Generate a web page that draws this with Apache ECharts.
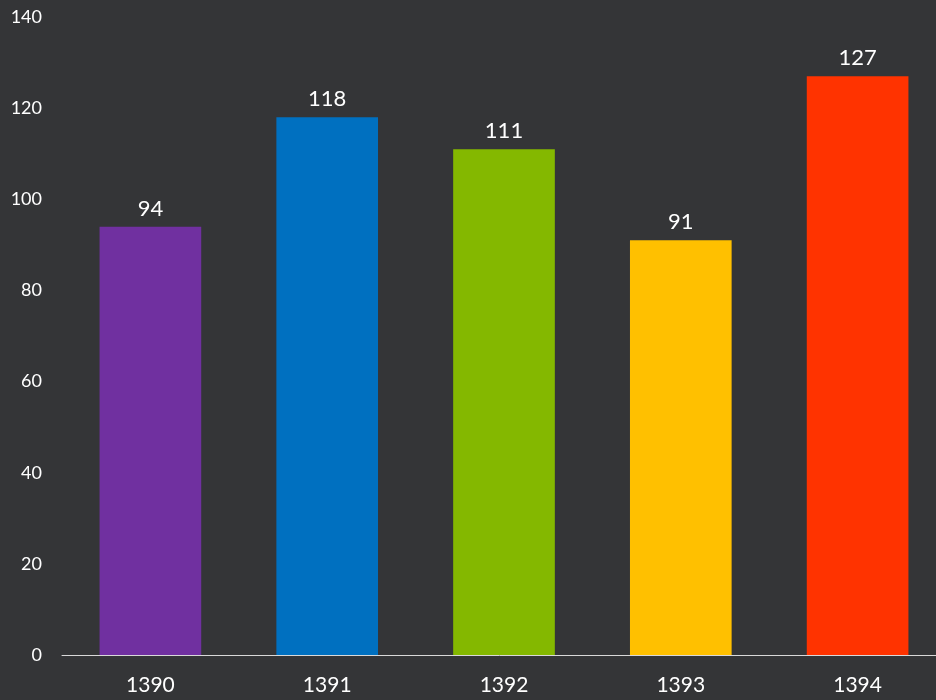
<!DOCTYPE html>
<html>
<head>
<meta charset="utf-8">
<script src="https://cdn.jsdelivr.net/npm/echarts@6/dist/echarts.min.js"></script>
<style>
  html, body { margin: 0; padding: 0; background: #343537; }
  #chart { width: 936px; height: 700px; }
</style>
</head>
<body>
<div id="chart"></div>
<script>
// Yearly totals, one coloured bar per year
const years = ['1390', '1391', '1392', '1393', '1394'];
const values = [94, 118, 111, 91, 127];
const barColors = ['#7030A0', '#0070C0', '#84B800', '#FFC000', '#FF3300'];
const yTicks = { min: 0, max: 140, step: 20 };

const chart = echarts.init(document.getElementById('chart'));
chart.setOption({
  backgroundColor: '#343537',
  animation: false,
  textStyle: { fontFamily: 'Lato, sans-serif' },
  // plot area runs a little past the right edge of the canvas
  grid: { left: 62, width: 884, top: 17, bottom: 45, containLabel: false, outerBoundsMode: 'none' },
  xAxis: {
    type: 'category',
    data: years,
    axisLine: { lineStyle: { color: '#d9d9d9', width: 1 } },
    axisTick: { show: false },
    axisLabel: { color: '#ffffff', fontSize: 21, margin: 20 }
  },
  yAxis: {
    type: 'value',
    min: yTicks.min,
    max: yTicks.max,
    interval: yTicks.step,
    splitLine: { show: false },
    axisLine: { show: false },
    axisTick: { show: false },
    axisLabel: { color: '#ffffff', fontSize: 18, margin: 20 }
  },
  series: [{
    type: 'bar',
    barWidth: '57.5%',
    data: values.map((v, i) => ({ value: v, itemStyle: { color: barColors[i] } })),
    label: { show: true, position: 'top', distance: 7, color: '#ffffff', fontSize: 22 }
  }]
});
</script>
</body>
</html>
